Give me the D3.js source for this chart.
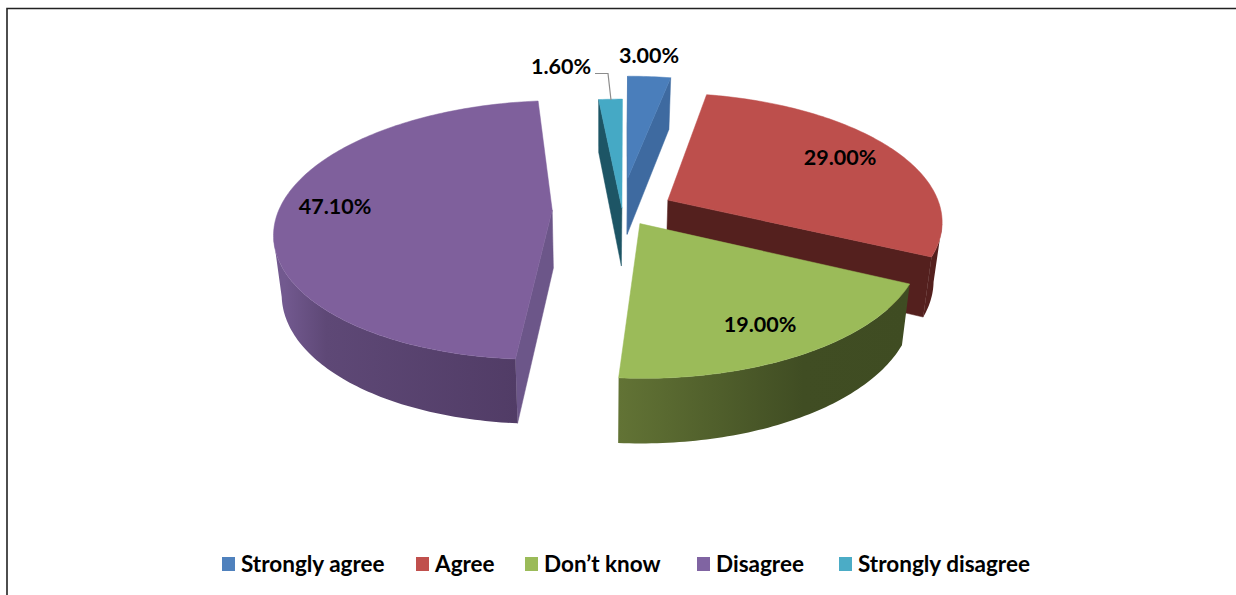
<!DOCTYPE html>
<html><head><meta charset="utf-8">
<script src="https://cdn.jsdelivr.net/npm/d3@7"></script>
<style>html,body{margin:0;padding:0;background:#fff}svg{display:block}text{font-family:Lato,"Open Sans",sans-serif;font-weight:700;fill:#000}</style>
</head><body><div id="chart"></div>
<script>
const categories = ["Strongly agree","Agree","Don\u2019t know","Disagree","Strongly disagree"];
const values = [3.0,29.0,19.0,47.1,1.6];
const valueLabels = ["3.00%","29.00%","19.00%","47.10%","1.60%"];
const topColors = ["#4a7ebb","#bd4f4c","#9bbb59","#7f609c","#45a9c5"];
const legendColors = ["#4f81bd","#c0504d","#9bbb59","#8064a2","#4bacc6"];
const wallStops = [
  [[0,"#3e6aa0"],[360,"#3e6aa0"]],
  [[0,"#54201e"],[360,"#54201e"]],
  [[115,"#3f4c22"],[150,"#404d23"],[184,"#627335"]],
  [[183,"#513c66"],[225,"#5e4876"],[275,"#72598f"]],
  [[0,"#1d5565"],[360,"#1d5565"]]
];
const radialWallColors = ["#3e6aa0","#54201e","#3f4c22","#6c5689","#1d5565"];
const explodeU = [0.007,0.155,0.05,-0.27,-0.015];
const explodeV = [0.28,0.095,-0.09,0.015,0.03];
const drawOrder = [0,4,1,3,2];
const labelPos = [[649,56],[840,158],[760,325],[335,207],[561,67]];
const legendX = [222,416,525,697,839];

const W=1236,H=595, CX=626, CY=212, B=274, A=127, P=0.154, D=58, DP=0.1, VX=600, NARROW=0.975;
const pie=d3.pie().sort(null).value(d=>d).startAngle(0).endAngle(2*Math.PI);
const arcs=pie(values);
const toRad=d=>d*Math.PI/180, toDeg=r=>r*180/Math.PI;

function proj(u,v,low){
  const w=1+P*v;
  let x=CX+u*B/w, y=CY-v*A/w;
  if(low){ y+=D/(1+DP*v); x=VX+(x-VX)*NARROW; }
  return [x,y];
}
const svg=d3.select("#chart").append("svg").attr("width",W).attr("height",H);
const defs=svg.append("defs");
const line=d3.line();
svg.append("path").attr("d",line([[7,H],[7,8.5],[W,8.5]])).attr("fill","none").attr("stroke","#222").attr("stroke-width",1.6);

drawOrder.forEach(i=>{
  const a=arcs[i], t0=a.startAngle, t1=a.endAngle;
  const ox=explodeU[i], oy=explodeV[i];
  const P3=(r,t,low)=>proj(ox+r*Math.sin(t),oy+r*Math.cos(t),low);
  const g=svg.append("g").attr("class","slice");
  const n=Math.max(4,Math.ceil(toDeg(t1-t0)));
  const ts=d3.range(n+1).map(k=>t0+(t1-t0)*k/n);
  // radial walls: drawn only when they face the viewer
  [[t0,1],[t1,-1]].forEach(([t,sgn])=>{
    const q=[P3(0,t,false),P3(1,t,false),P3(1,t,true),P3(0,t,true)];
    if(d3.polygonArea(q)*sgn>0) g.append("path").attr("d",line(q)+"Z").attr("fill",radialWallColors[i]).attr("stroke",radialWallColors[i]).attr("stroke-width",.5);
  });
  // outer wall: a single band over the front-facing part of the rim
  const vis=ts.filter(t=>{const e=0.002;return P3(1,t+e,false)[0]<P3(1,t,false)[0];});
  if(vis.length>1){
    const top=vis.map(t=>P3(1,t,false)), low=vis.map(t=>P3(1,t,true)).reverse();
    const xs=[...top,...low].map(p=>p[0]), x0=d3.min(xs), x1=d3.max(xs);
    const off=d3.scaleLinear().domain([x0,x1]).range([0,1]).clamp(true);
    const grad=defs.append("linearGradient").attr("id","wall"+i).attr("gradientUnits","userSpaceOnUse")
      .attr("x1",x0).attr("x2",x1).attr("y1",0).attr("y2",0);
    const stops=wallStops[i].map(s=>({o:off(P3(1,toRad(s[0]),false)[0]),c:s[1]})).sort((p,q)=>p.o-q.o);
    grad.selectAll("stop").data(stops).join("stop").attr("offset",d=>d.o).attr("stop-color",d=>d.c);
    g.append("path").attr("d",line([...top,...low])+"Z").attr("fill",`url(#wall${i})`);
  }
  const face=[P3(0,t0,false),...ts.map(t=>P3(1,t,false))];
  g.append("path").attr("d",line(face)+"Z").attr("fill",topColors[i]).attr("stroke",topColors[i]).attr("stroke-width",.5);
});
svg.append("path").attr("d",line([[595,73.5],[608,73.5],[611,100]])).attr("fill","none").attr("stroke","#8c8c8c").attr("stroke-width",1.2);
svg.selectAll("text.v").data(valueLabels).join("text").attr("class","v")
  .attr("x",(d,i)=>labelPos[i][0]).attr("y",(d,i)=>labelPos[i][1]+7).attr("text-anchor","middle").attr("font-size",21.5).text(d=>d);
const lg=svg.selectAll("g.l").data(categories).join("g").attr("class","l").attr("transform",(d,i)=>`translate(${legendX[i]},557)`);
lg.append("rect").attr("width",13).attr("height",14).attr("fill",(d,i)=>legendColors[i]);
lg.append("text").attr("x",19).attr("y",15).attr("font-size",22.5).text(d=>d);
</script></body></html>
